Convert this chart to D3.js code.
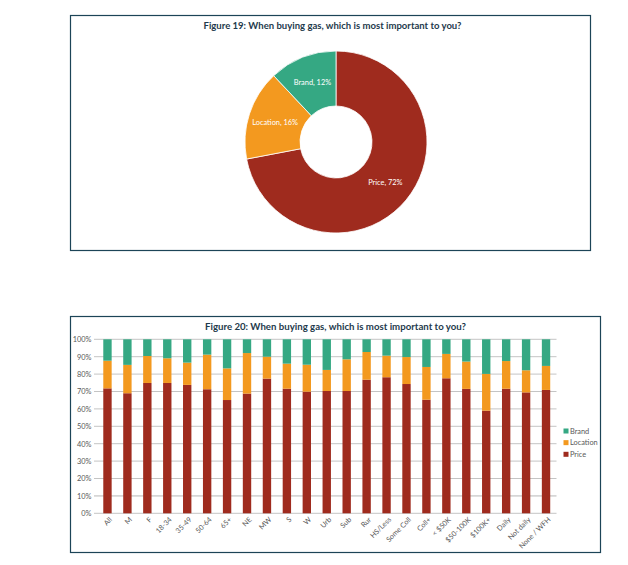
<!DOCTYPE html>
<html>
<head>
<meta charset="utf-8">
<script src="https://cdn.jsdelivr.net/npm/d3@7"></script>
<style>
  html, body { margin: 0; padding: 0; background: #fff; }
  svg { display: block; font-family: Lato, "Open Sans", sans-serif; }
</style>
</head>
<body>
<svg id="chart" width="628" height="565"></svg>
<script>
// ---- Figure 19 data (pie) ----
const pieLabels = ["Price", "Location", "Brand"];
const pieValues = [72, 16, 12];

// ---- Figure 20 data (stacked bars, %) ----
const categories = ["All", "M", "F", "18-34", "35-49", "50-64", "65+", "NE", "MW", "S", "W", "Urb", "Sub", "Rur", "HS/Less", "Some Coll", "Coll+", "< $50K", "$50-100K", "$100K+", "Daily", "Not daily", "None / WFH"];
const priceValues    = [71.8, 69.0, 74.9, 74.9, 73.8, 71.3, 65.1, 68.8, 77.4, 71.6, 69.9, 70.3, 70.3, 76.8, 78.2, 74.3, 65.3, 77.6, 71.5, 59.0, 71.6, 69.5, 70.9];
const locationValues = [15.9, 16.3, 15.5, 14.2, 12.8, 19.9, 18.2, 23.3, 12.6, 14.4, 15.5, 12.1, 18.2, 15.9, 12.4, 15.5, 18.8, 14.0, 15.7, 21.1, 15.9, 12.7, 13.8];
const brandValues    = [12.3, 14.7, 9.6, 10.9, 13.4, 8.8, 16.7, 7.9, 10.0, 14.0, 14.6, 17.6, 11.5, 7.3, 9.4, 10.2, 15.9, 8.4, 12.8, 19.9, 12.5, 17.8, 15.3];
const seriesNames = ["Price", "Location", "Brand"];
const yTicks = [0, 10, 20, 30, 40, 50, 60, 70, 80, 90, 100];

const colors = { Price: "#9F2B1E", Location: "#F3991F", Brand: "#35A883" };
const frameColor = "#1C4457";
const titleColor = "#1E3A4C";
const textGray = "#595959";

const svg = d3.select("#chart");
svg.append("rect").attr("width", 628).attr("height", 565).attr("fill", "#fff");

// ===== Figure 19 =====
svg.append("rect").attr("x", 70.5).attr("y", 15.5).attr("width", 520).attr("height", 235)
  .attr("fill", "none").attr("stroke", frameColor).attr("stroke-width", 1.2);
svg.append("text").attr("x", 332.5).attr("y", 28.5).attr("text-anchor", "middle")
  .attr("font-size", 8.6).attr("font-weight", "bold").attr("fill", titleColor)
  .attr("textLength", 258).attr("lengthAdjust", "spacingAndGlyphs")
  .text("Figure 19: When buying gas, which is most important to you?");

const pieG = svg.append("g").attr("transform", "translate(336,142)");
const pie = d3.pie().sort(null).value(d => d.v);
const pieData = pie(pieLabels.map((l, i) => ({ l, v: pieValues[i] })));
const arc = d3.arc().innerRadius(36).outerRadius(91);
pieG.selectAll("path").data(pieData).join("path")
  .attr("d", arc).attr("fill", d => colors[d.data.l])
  .attr("stroke", "#fff").attr("stroke-width", 0.8);
const labelArc = d3.arc().innerRadius(64).outerRadius(64);
pieG.selectAll("text").data(pieData).join("text")
  .attr("transform", d => `translate(${labelArc.centroid(d)})`)
  .attr("text-anchor", "middle").attr("dy", "0.35em")
  .attr("font-size", 7.4).attr("fill", "#fff")
  .text(d => `${d.data.l}, ${d.data.v}%`);

// ===== Figure 20 =====
svg.append("rect").attr("x", 70.5).attr("y", 316.5).attr("width", 530).attr("height", 236)
  .attr("fill", "none").attr("stroke", frameColor).attr("stroke-width", 1.2);
svg.append("text").attr("x", 335.5).attr("y", 329.5).attr("text-anchor", "middle")
  .attr("font-size", 8.6).attr("font-weight", "bold").attr("fill", titleColor)
  .attr("textLength", 261).attr("lengthAdjust", "spacingAndGlyphs")
  .text("Figure 20: When buying gas, which is most important to you?");

const x = d3.scaleBand().domain(categories).range([97.5, 556]).paddingInner(0.58).paddingOuter(0.29);
const y = d3.scaleLinear().domain([0, 100]).range([513.3, 339.3]);

// gridlines
const grid = svg.append("g");
grid.selectAll("line").data(yTicks).join("line")
  .attr("x1", 94).attr("x2", 556.5)
  .attr("y1", d => y(d)).attr("y2", d => y(d))
  .attr("stroke", d => d === 10 ? "#D6D6D6" : "#BDBDBD")
  .attr("stroke-width", d => d === 10 ? 1.8 : 0.9);

// y axis labels via d3 axis
const yAxis = d3.axisLeft(y).tickValues(yTicks).tickFormat(d => d + "%").tickSize(0).tickPadding(0);
const yG = svg.append("g").attr("transform", "translate(91.5,0)").call(yAxis);
yG.select(".domain").remove();
yG.selectAll("text").attr("font-size", 7.4).attr("fill", textGray).attr("font-family", "Lato, sans-serif");

// stacked bars
const rows = categories.map((c, i) => ({ cat: c, Price: priceValues[i], Location: locationValues[i], Brand: brandValues[i] }));
const stack = d3.stack().keys(seriesNames);
const stacked = stack(rows);
svg.append("g").selectAll("g").data(stacked).join("g")
  .attr("fill", d => colors[d.key])
  .selectAll("rect").data(d => d).join("rect")
  .attr("x", d => x(d.data.cat))
  .attr("width", x.bandwidth())
  .attr("y", d => y(d[1]))
  .attr("height", d => y(d[0]) - y(d[1]));

// x axis labels
const xAxis = d3.axisBottom(x).tickSize(0).tickPadding(0);
const xG = svg.append("g").attr("transform", "translate(0,517)").call(xAxis);
xG.select(".domain").remove();
xG.selectAll("text")
  .attr("font-size", 7.2).attr("fill", textGray).attr("font-family", "Lato, sans-serif")
  .attr("text-anchor", "end").attr("dy", "0.6em").attr("dx", "0")
  .attr("transform", "translate(2,0) rotate(-45)");

// legend
const legend = svg.append("g");
const legItems = ["Brand", "Location", "Price"];
const legY = d3.scalePoint().domain(legItems).range([431, 454.3]);
legend.selectAll("rect").data(legItems).join("rect")
  .attr("x", 563.5).attr("y", d => legY(d) - 2.5).attr("width", 5).attr("height", 5)
  .attr("fill", d => colors[d]);
legend.selectAll("text").data(legItems).join("text")
  .attr("x", 570).attr("y", d => legY(d)).attr("dy", "0.35em")
  .attr("font-size", 7.4).attr("fill", textGray)
  .text(d => d);
</script>
</body>
</html>
